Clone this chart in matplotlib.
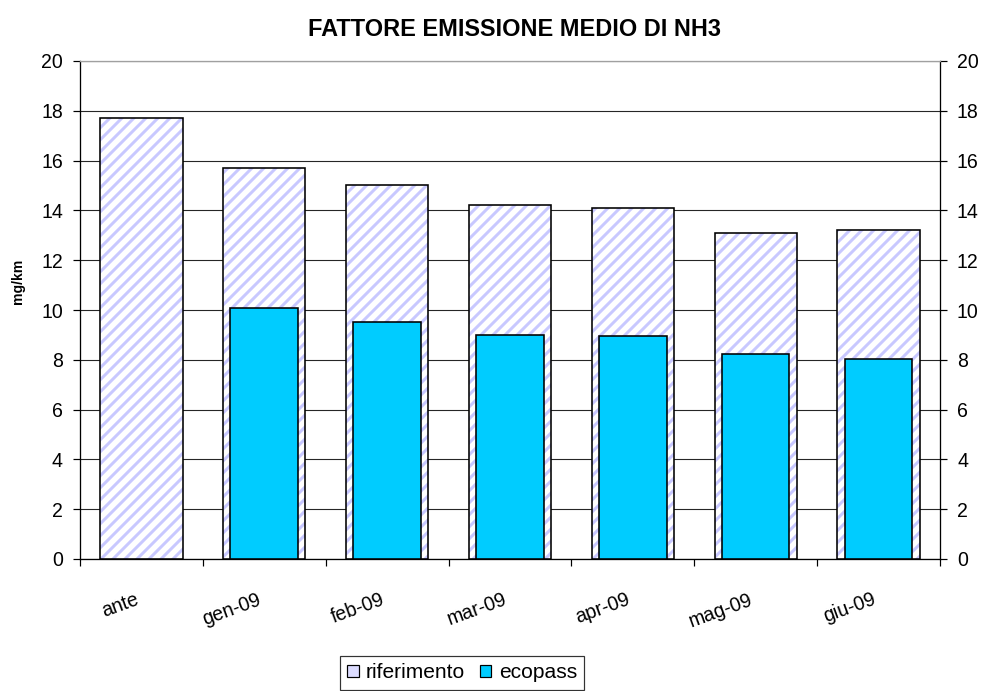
import matplotlib
matplotlib.use("Agg")
import matplotlib.pyplot as plt
import matplotlib.transforms as mtransforms
from matplotlib.patches import Patch
import numpy as np

categories = ["ante", "gen-09", "feb-09", "mar-09", "apr-09", "mag-09", "giu-09"]
riferimento = [17.7, 15.7, 15.0, 14.2, 14.1, 13.1, 13.2]
ecopass = [None, 10.1, 9.5, 9.0, 8.95, 8.25, 8.05]
yticks = [0, 2, 4, 6, 8, 10, 12, 14, 16, 18, 20]

plt.rcParams['font.family'] = ['Liberation Sans', 'DejaVu Sans']
plt.rcParams['hatch.linewidth'] = 3.0

DPI = 72  # 1 pt == 1 px
W, H = 988, 691
fig = plt.figure(figsize=(W / DPI, H / DPI), dpi=DPI)
ax = fig.add_axes([80 / W, 1 - 559 / H, 860 / W, 498 / H])

x = np.arange(len(categories))
HATCH_C = '#c8c8ff'
ax.bar(x, riferimento, width=0.67, facecolor='white', edgecolor=HATCH_C,
       hatch='//', linewidth=0, zorder=3)
ax.bar(x, riferimento, width=0.67, facecolor='none', edgecolor='black',
       linewidth=1.6, zorder=4)
eco_x = [xi for xi, v in zip(x, ecopass) if v is not None]
eco_v = [v for v in ecopass if v is not None]
ax.bar(eco_x, eco_v, width=0.55, facecolor='#00ccff', edgecolor='black',
       linewidth=1.6, zorder=5)

ax.set_xlim(-0.5, len(categories) - 0.5)
ax.set_ylim(0, 20)
ax.set_yticks(yticks)
ax.set_yticklabels([str(t) for t in yticks], fontsize=19.5)
ax.grid(axis='y', color='#262626', linewidth=1.1, zorder=0)
ax.set_axisbelow(True)

ax.set_xticks(x)
ax.set_xticklabels(categories, fontsize=19.5, rotation=20, ha='right',
                   va='top', rotation_mode='anchor')
ax.tick_params(axis='x', which='major', length=0, pad=26)
ax.set_xticks(np.arange(-0.5, len(categories)), minor=True)
ax.tick_params(axis='x', which='minor', length=7, direction='out', width=1.2)
ax.tick_params(axis='y', which='major', length=7, direction='out', width=1.2,
               right=True, labelright=True, pad=10)

offset = mtransforms.ScaledTranslation(-7 / DPI, -5 / DPI, fig.dpi_scale_trans)
for lbl in ax.get_xticklabels():
    lbl.set_transform(lbl.get_transform() + offset)

for s in ['left', 'right', 'bottom']:
    ax.spines[s].set_color('black')
    ax.spines[s].set_linewidth(1.3)
ax.spines['top'].set_color('#a0a0a0')
ax.spines['top'].set_linewidth(1.3)

ax.set_ylabel('mg/km', fontsize=14, fontweight='bold')
ax.yaxis.set_label_coords((25 - 80) / 860, (559 - 281) / 498)
fig.text(514 / W, 1 - 30 / H, 'FATTORE EMISSIONE MEDIO DI NH3', ha='center',
         va='center', fontsize=23.5, fontweight='bold')

h0 = Patch(facecolor='#dcdcff', edgecolor='black', linewidth=1.2)
h1 = Patch(facecolor='#00ccff', edgecolor='black', linewidth=1.2)
leg = fig.legend([h0, h1], ['riferimento', 'ecopass'], loc='center',
                 bbox_to_anchor=(462 / W, 1 - 673 / H), ncol=2,
                 fontsize=21, frameon=True, fancybox=False, edgecolor='black',
                 handlelength=0.55, handleheight=0.55, handletextpad=0.35,
                 columnspacing=0.7, borderpad=0.35, borderaxespad=0)
leg.get_frame().set_linewidth(1.2)

fig.savefig('out.png', dpi=DPI)
